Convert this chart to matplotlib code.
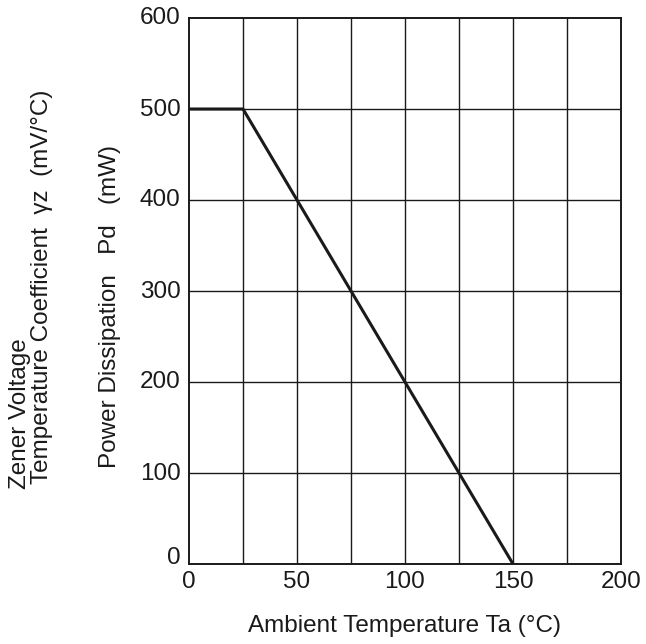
import matplotlib
matplotlib.use("Agg")
import matplotlib.pyplot as plt
import matplotlib.transforms as mtransforms

plt.rcParams['font.family'] = ['Liberation Sans', 'DejaVu Sans']

temp = [0, 25, 150]
power = [500, 500, 0]
xticks = [0, 50, 100, 150, 200]
yticks = [0, 100, 200, 300, 400, 500, 600]
xgrid = [25, 50, 75, 100, 125, 150, 175]
ygrid = [100, 200, 300, 400, 500]

W, H = 646, 644
FS = 17.5
fig = plt.figure(figsize=(W / 100, H / 100), dpi=100)
ax = fig.add_axes([189 / W, 1 - 564 / H, (621 - 189) / W, (564 - 18) / H])

ax.set_xlim(0, 200)
ax.set_ylim(0, 600)
for g in xgrid:
    ax.axvline(g, color='#1a1a1a', lw=1.0, zorder=1)
for g in ygrid:
    ax.axhline(g, color='#1a1a1a', lw=1.0, zorder=1)

ax.plot(temp, power, color='#1a1a1a', lw=2.2, zorder=3, solid_capstyle='butt')

for s in ax.spines.values():
    s.set_linewidth(1.4)
    s.set_color('#1a1a1a')

ax.set_xticks(xticks)
ax.set_yticks(yticks)
ax.tick_params(length=0, labelsize=FS, colors='#1a1a1a')
ax.tick_params(axis='x', pad=5)
ax.tick_params(axis='y', pad=6)
fig.canvas.draw()
for lbl in ax.get_yticklabels():
    lbl.set_transform(lbl.get_transform() + mtransforms.ScaledTranslation(0, 2 / 100, fig.dpi_scale_trans))
ax.get_yticklabels()[0].set_transform(ax.get_yticklabels()[0].get_transform()
                                      + mtransforms.ScaledTranslation(0, 7 / 100, fig.dpi_scale_trans))

fig.text(405 / W, 1 - 626 / H, 'Ambient Temperature Ta (°C)', ha='center', va='center',
         fontsize=FS, color='#1a1a1a')
fig.text(110 / W, 1 - 468 / H, 'Power Dissipation   Pd   (mW)', rotation=90,
         ha='center', va='bottom', fontsize=FS, color='#1a1a1a')
fig.text(20 / W, 1 - 489 / H, 'Zener Voltage', rotation=90,
         ha='center', va='bottom', fontsize=FS, color='#1a1a1a')
fig.text(42 / W, 1 - 484 / H, 'Temperature Coefficient  γz  (mV/°C)', rotation=90,
         ha='center', va='bottom', fontsize=FS, color='#1a1a1a')

fig.savefig('out.png', dpi=100)
